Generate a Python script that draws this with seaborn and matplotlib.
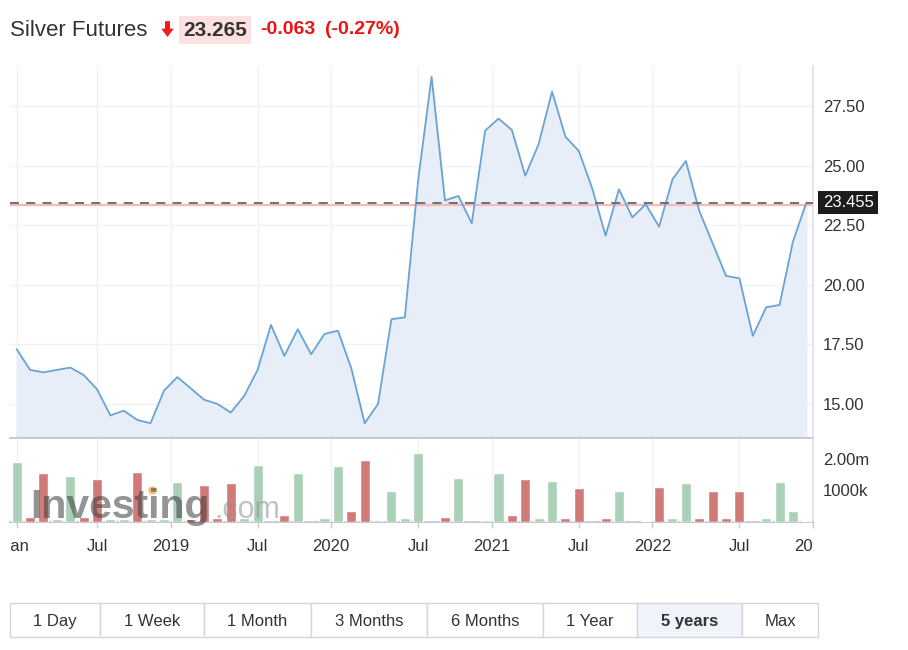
import numpy as np
import pandas as pd
import seaborn as sns
import matplotlib.pyplot as plt
from matplotlib.patches import Rectangle
from matplotlib.path import Path
from matplotlib.lines import Line2D
import matplotlib.transforms as mtransforms

# monthly closes, Jan 2018 .. Dec 2022
price = [17.30, 16.43, 16.33, 16.43, 16.53, 16.22, 15.62, 14.52, 14.72, 14.33,
         14.19, 15.55, 16.13, 15.66, 15.18, 15.00, 14.64, 15.34, 16.43, 18.32,
         17.02, 18.14, 17.09, 17.94, 18.08, 16.50, 14.19, 15.00, 18.56, 18.64,
         24.41, 28.75, 23.55, 23.74, 22.59, 26.48, 26.99, 26.51, 24.59, 25.92,
         28.12, 26.23, 25.63, 24.06, 22.07, 24.02, 22.84, 23.39, 22.45, 24.44,
         25.21, 23.11, 21.75, 20.38, 20.28, 17.86, 19.06, 19.16, 21.82, 23.46]

# volume in millions
volume = [1.91, 0.16, 1.54, 0.11, 1.46, 0.16, 1.36, 0.10, 0.11, 1.59,
          0.10, 0.11, 1.27, 0.11, 1.17, 0.13, 1.22, 0.13, 1.81, 0.0,
          0.21, 1.54, 0.0, 0.13, 1.78, 0.34, 1.97, 0.07, 0.98, 0.13,
          2.18, 0.0, 0.16, 1.38, 0.0, 0.07, 1.54, 0.21, 1.36, 0.13,
          1.31, 0.13, 1.07, 0.0, 0.13, 0.98, 0.0, 0.03, 1.12, 0.13,
          1.22, 0.13, 0.98, 0.13, 0.98, 0.0, 0.13, 1.27, 0.34, 0.03]
direction = ['up', 'down', 'down', 'up', 'up', 'down', 'down', 'up', 'up', 'down',
             'up', 'up', 'up', 'down', 'down', 'down', 'down', 'up', 'up', 'up',
             'down', 'up', 'up', 'up', 'up', 'down', 'down', 'up', 'up', 'up',
             'up', 'up', 'down', 'up', 'up', 'up', 'up', 'down', 'down', 'up',
             'up', 'down', 'down', 'up', 'down', 'up', 'up', 'up', 'down', 'up',
             'up', 'down', 'down', 'down', 'down', 'up', 'up', 'up', 'up', 'up']

x_ticks = [0, 6, 11.5, 18, 23.5, 30, 35.5, 42, 47.5, 54, 59.5]
x_labels = ['Jan', 'Jul', '2019', 'Jul', '2020', 'Jul', '2021', 'Jul', '2022', 'Jul', '2023']
price_ticks = [15, 17.5, 20, 22.5, 25, 27.5]
vol_ticks = [1.0, 2.0]
vol_labels = ['1000k', '2.00m']

last_price = 23.455
prev_close = 23.35
buttons = ['1 Day', '1 Week', '1 Month', '3 Months', '6 Months', '1 Year', '5 years', 'Max']
active_button = '5 years'

df = pd.DataFrame({'idx': np.arange(len(price)), 'price': price,
                   'volume': volume, 'dir': direction})

sns.set_theme(style="white")
plt.rcParams['font.family'] = ['Liberation Sans', 'DejaVu Sans']

W, H = 908, 650
fig = plt.figure(figsize=(W / 100, H / 100), dpi=100)


def fx(px):
    return px / W


def fy(py):
    return 1 - py / H


ax = fig.add_axes([fx(10), fy(438), fx(813) - fx(10), fy(66) - fy(438)])
axv = fig.add_axes([fx(10), fy(522), fx(813) - fx(10), fy(439) - fy(522)], sharex=ax)

line_c = '#6aa4d6'
grid_c = '#f1f2f4'
axis_c = '#dde1e8'
txt_c = '#333333'

# price panel
ax.fill_between(df['idx'], df['price'], 10, color='#e8eef7', zorder=1)
sns.lineplot(data=df, x='idx', y='price', ax=ax, color=line_c, linewidth=1.3, zorder=3)
ax.axhline(prev_close, color='#f6b8b8', lw=1.6, zorder=2)
ax.axhline(last_price, color='#666666', lw=1.3, ls=(0, (5, 4)), zorder=4)
ax.set_xlim(-0.5, 59.47)
ax.set_ylim(13.57, 29.2)
ax.yaxis.tick_right()
ax.set_yticks(price_ticks)
ax.set_yticklabels([f'{v:.2f}' for v in price_ticks])
ax.tick_params(axis='y', length=0, pad=7, labelsize=12, labelcolor=txt_c)
ax.tick_params(axis='x', length=0, labelbottom=False)
ax.set_xticks(x_ticks)
ax.grid(True, color=grid_c, lw=1)
ax.set_xlabel('')
ax.set_ylabel('')
for s in ['top', 'left']:
    ax.spines[s].set_visible(False)
ax.spines['right'].set_color(axis_c)
ax.spines['right'].set_linewidth(1.2)
ax.spines['bottom'].set_color('#c9cbcf')
ax.spines['bottom'].set_linewidth(1.5)

trans = mtransforms.blended_transform_factory(ax.transAxes, ax.transData)
ax.text(1.012, last_price, f'{last_price:.3f}', transform=trans, ha='left', va='center',
        fontsize=12, color='white', zorder=6, clip_on=False,
        bbox=dict(boxstyle='square,pad=0.25', fc='#1c1c1c', ec='none'))

# volume panel
sns.barplot(data=df, x='idx', y='volume', hue='dir', ax=axv, native_scale=True,
            palette={'up': '#a4d6b5', 'down': '#e06b6b'}, width=0.75, dodge=False,
            legend=False, zorder=3)
axv.set_ylim(0, 2.63)
axv.set_xlim(-0.5, 59.47)
axv.yaxis.tick_right()
axv.set_yticks(vol_ticks)
axv.set_yticklabels(vol_labels)
axv.tick_params(axis='y', length=0, pad=7, labelsize=12, labelcolor=txt_c)
axv.set_xticks(x_ticks)
axv.set_xticklabels(x_labels)
axv.tick_params(axis='x', length=4, width=1, color='#c9cbcf', pad=8, labelsize=12,
                labelcolor=txt_c, bottom=True)
axv.grid(True, axis='x', color=grid_c, lw=1)
axv.set_xlabel('')
axv.set_ylabel('')
for s in ['top', 'left']:
    axv.spines[s].set_visible(False)
axv.spines['right'].set_color(axis_c)
axv.spines['right'].set_linewidth(1.2)
axv.spines['bottom'].set_color('#c9cbcf')
axv.spines['bottom'].set_linewidth(1.5)

clip = Rectangle((fx(10.5), 0), fx(813) - fx(10.5), 1, transform=fig.transFigure)
for lbl in axv.get_xticklabels():
    lbl.set_clip_path(clip)

# watermark
fig.text(fx(30), fy(518), 'Investing', fontsize=29.5, weight='bold', color='#3c3c3c',
         alpha=0.55, va='baseline', zorder=10)
fig.text(fx(214), fy(518), '.com', fontsize=22, color='#9a9a9a', alpha=0.6,
         va='baseline', zorder=10)
fig.add_artist(Line2D([fx(152)], [fy(490)], marker='o', markersize=5, color='#f5b041',
                      alpha=0.7, transform=fig.transFigure))

# header
fig.text(fx(10), fy(30), 'Silver Futures', fontsize=16, color=txt_c, va='center')
arrow = Path([(-0.3, 1), (0.3, 1), (0.3, 0.1), (0.75, 0.1), (0, -0.9), (-0.75, 0.1),
              (-0.3, 0.1), (-0.3, 1)])
fig.add_artist(Line2D([fx(166.5)], [fy(29)], marker=arrow, markersize=12, color='#ee1c1c',
                      markeredgewidth=0, transform=fig.transFigure))
fig.text(fx(183), fy(30), '23.265', fontsize=15, weight='bold', color=txt_c, va='center',
         bbox=dict(boxstyle='square,pad=0.2', fc='#fde1e1', ec='none'))
fig.text(fx(260), fy(30), '-0.063', fontsize=14, weight='bold', color='#ee1111', va='center')
fig.text(fx(325), fy(30), '(-0.27%)', fontsize=14, weight='bold', color='#ee1111', va='center')

# range buttons
edges = [10, 100, 204, 311, 427, 543, 637, 742, 818]
for i, name in enumerate(buttons):
    x0, x1 = edges[i], edges[i + 1]
    active = name == active_button
    fig.add_artist(Rectangle((fx(x0), fy(637)), fx(x1) - fx(x0), fy(603) - fy(637),
                             transform=fig.transFigure, fc='#eef4fa' if active else 'white',
                             ec='#d4d6da', lw=1))
    fig.text(fx((x0 + x1) / 2), fy(620), name, ha='center', va='center_baseline', fontsize=12,
             color=txt_c, weight='bold' if active else 'normal')

fig.savefig('out.png', dpi=100)
